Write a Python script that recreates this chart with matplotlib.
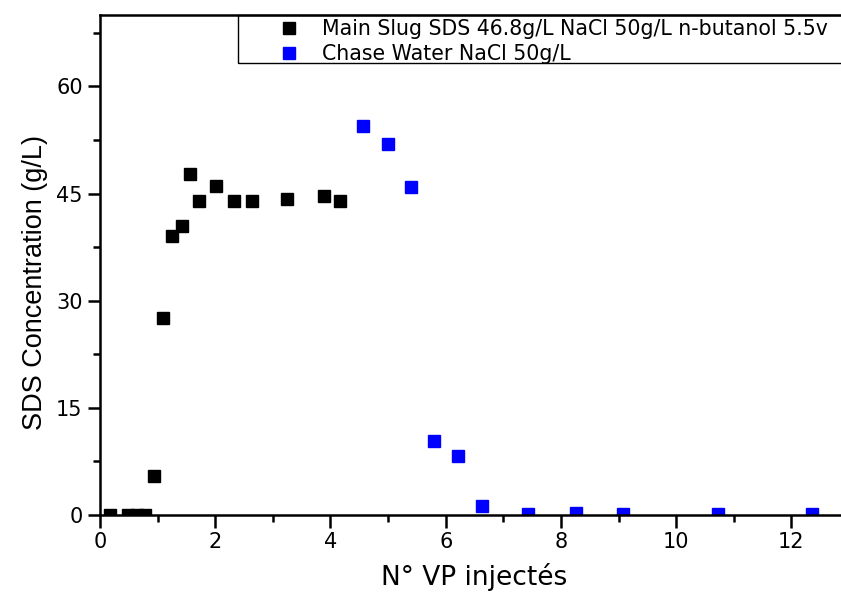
import matplotlib
matplotlib.use("Agg")
import matplotlib.pyplot as plt
from matplotlib.patches import Rectangle
from matplotlib.ticker import MultipleLocator

plt.rcParams["font.family"] = ["DejaVu Sans"]

# Main slug (black)
main_x = [0.17, 0.49, 0.64, 0.78, 0.94, 1.09, 1.25, 1.42, 1.56, 1.72, 2.02, 2.33, 2.64, 3.25, 3.88, 4.16]
main_y = [0.0, 0.0, 0.0, 0.0, 5.4, 27.6, 39.1, 40.5, 47.7, 44.0, 46.1, 44.0, 43.9, 44.3, 44.6, 44.0]

# Chase water (blue)
chase_x = [4.57, 4.99, 5.40, 5.80, 6.21, 6.63, 7.43, 8.26, 9.08, 10.73, 12.36]
chase_y = [54.4, 52.0, 45.9, 10.4, 8.3, 1.2, 0.1, 0.3, 0.1, 0.1, 0.2]

main_label = "Main Slug SDS 46.8g/L NaCl 50g/L n-butanol 5.5v"
chase_label = "Chase Water NaCl 50g/L"

fig = plt.figure(figsize=(8.41, 5.96), dpi=100)
ax = fig.add_axes([100 / 841, 81 / 596, 749 / 841, 500 / 596])

ax.plot(main_x, main_y, "s", color="black", ms=8.5, label=main_label)
ax.plot(chase_x, chase_y, "s", color="blue", ms=8.5, label=chase_label)

ax.set_xlim(0, 13)
ax.set_ylim(0, 70)
ax.xaxis.set_major_locator(MultipleLocator(2))
ax.xaxis.set_minor_locator(MultipleLocator(1))
ax.yaxis.set_major_locator(MultipleLocator(15))
ax.yaxis.set_minor_locator(MultipleLocator(7.5))
ax.tick_params(which="major", length=9, width=1.8, labelsize=15, direction="out")
ax.tick_params(which="minor", length=5, width=1.8, direction="out")
for s in ax.spines.values():
    s.set_linewidth(1.8)

ax.set_xlabel("N° VP injectés", fontsize=19, labelpad=8)
ax.set_ylabel("SDS Concentration (g/L)", fontsize=19.5, family="Liberation Sans")
ax.yaxis.set_label_coords(-0.069, 0.466)

# legend box (runs off the right edge like the original)
fig.patches.append(Rectangle((238 / 841, 1 - 63 / 596), 0.8, 48 / 596,
                             transform=fig.transFigure, fill=False,
                             edgecolor="black", linewidth=1.0))
leg = fig.legend(loc="upper left", bbox_to_anchor=(279 / 841, 1 - 19 / 596),
                 fontsize=14.8, frameon=False,
                 handletextpad=1.1, borderpad=0, labelspacing=0.25,
                 handlelength=1.0, borderaxespad=0)

fig.savefig("out.png", dpi=100)
